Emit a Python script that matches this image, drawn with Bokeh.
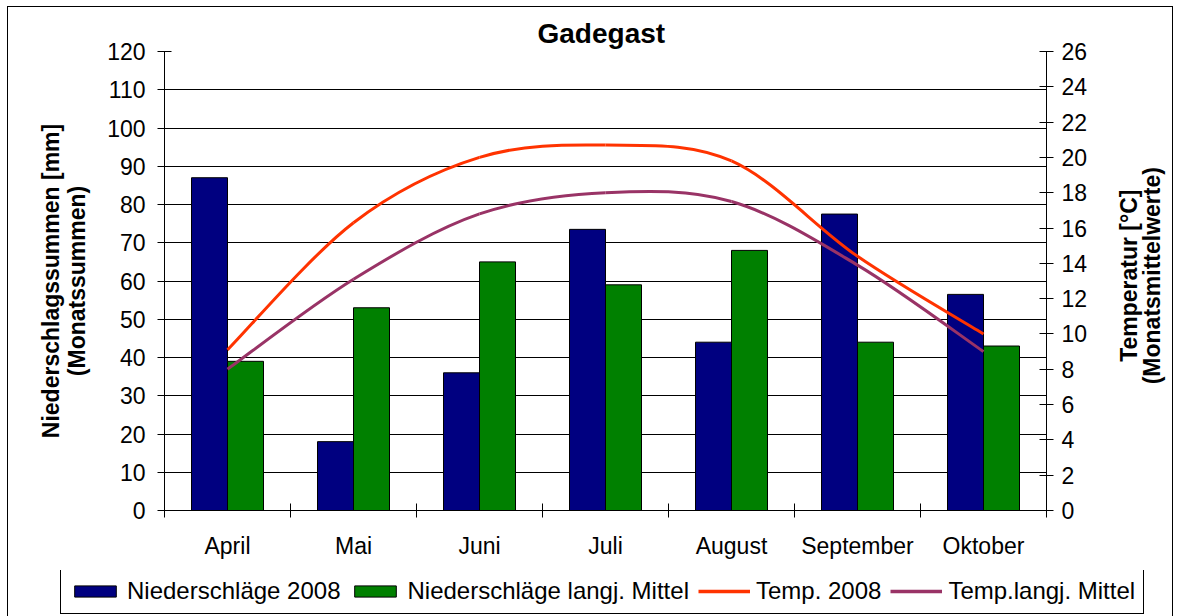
import math
from bokeh.plotting import figure
from bokeh.layouts import column, row
from bokeh.models import (Range1d, LinearAxis, FixedTicker, Legend, LegendItem,
                          ColumnDataSource, Label)
from bokeh.transform import dodge
from bokeh.embed import file_html
from bokeh.resources import INLINE

# ---------------- data ----------------
months = ["April", "Mai", "Juni", "Juli", "August", "September", "Oktober"]
rain_2008 = [87, 18, 36, 73.5, 44, 77.5, 56.5]
rain_mean = [39, 53, 65, 59, 68, 44, 43]
temp_2008 = [9.1, 16.3, 20.0, 20.7, 19.8, 14.4, 10.0]
temp_mean = [8.0, 13.1, 16.8, 18.0, 17.5, 13.9, 9.0]
rain_ticks = list(range(0, 121, 10))
temp_ticks = list(range(0, 27, 2))
series_names = ["Niederschläge 2008", "Niederschläge langj. Mittel",
                "Temp. 2008", "Temp.langj. Mittel"]
colors = ["#000080", "#008000", "#FF3300", "#993366"]

FONT = "Liberation Sans"
BORDER = "1px solid black"
n = len(months)
centers = [i + 0.5 for i in range(n)]
bw = 1 / 3.5

# ---------------- main chart ----------------
p = figure(width=1088, height=564, x_range=Range1d(0, n), y_range=Range1d(0, 120),
           output_backend="svg", toolbar_location=None,
           min_border_left=156, min_border_right=50, min_border_top=44, min_border_bottom=61)
p.styles = {"border-top": BORDER, "border-left": BORDER}
p.outline_line_color = None
p.background_fill_color = "white"
p.border_fill_color = "white"

p.title.text = "Gadegast"
p.title.align = "left"
p.title.offset = 373
p.title.text_font = FONT
p.title.text_font_size = "28px"
p.title.text_font_style = "bold"
p.title.text_color = "black"
p.title.standoff = 6

p.extra_y_ranges = {"temp": Range1d(0, 26)}

src = ColumnDataSource(dict(x=centers, r08=rain_2008, rm=rain_mean))
p.vbar(x=dodge("x", -bw / 2), top="r08", width=bw, source=src,
       fill_color=colors[0], line_color="black", line_width=1)
p.vbar(x=dodge("x", bw / 2), top="rm", width=bw, source=src,
       fill_color=colors[1], line_color="black", line_width=1)


def smooth(xs, ys):
    k = len(xs)
    out = dict(x0=[], y0=[], x1=[], y1=[], cx0=[], cy0=[], cx1=[], cy1=[])
    for i in range(k - 1):
        pm = i - 1 if i > 0 else i
        pp = i + 2 if i + 2 < k else i + 1
        out["x0"].append(xs[i]); out["y0"].append(ys[i])
        out["x1"].append(xs[i + 1]); out["y1"].append(ys[i + 1])
        out["cx0"].append(xs[i] + (xs[i + 1] - xs[pm]) / 6)
        out["cy0"].append(ys[i] + (ys[i + 1] - ys[pm]) / 6)
        out["cx1"].append(xs[i + 1] - (xs[pp] - xs[i]) / 6)
        out["cy1"].append(ys[i + 1] - (ys[pp] - ys[i]) / 6)
    return ColumnDataSource(out)


for ys, col in ((temp_2008, colors[2]), (temp_mean, colors[3])):
    p.bezier(x0="x0", y0="y0", x1="x1", y1="y1", cx0="cx0", cy0="cy0", cx1="cx1", cy1="cy1",
             source=smooth(centers, ys), line_color=col, line_width=3,
             y_range_name="temp")

# x axis
xa = p.xaxis[0]
xa.ticker = FixedTicker(ticks=centers, minor_ticks=list(range(n + 1)))
xa.major_label_overrides = {c: m for c, m in zip(centers, months)}
xa.major_tick_line_color = None
xa.major_tick_in = 0
xa.major_tick_out = 0
xa.minor_tick_line_color = "black"
xa.minor_tick_in = 7
xa.minor_tick_out = 7
xa.major_label_standoff = 15
xa.major_label_text_font = FONT
xa.major_label_text_font_size = "23px"
xa.major_label_text_color = "black"
xa.axis_line_color = "black"

# left axis
ya = p.yaxis[0]
ya.ticker = FixedTicker(ticks=rain_ticks)
ya.major_tick_in = 7
ya.major_tick_out = 7
ya.minor_tick_line_color = None
ya.major_label_standoff = 12
ya.major_label_text_font = FONT
ya.major_label_text_font_size = "23px"
ya.major_label_text_color = "black"
ya.axis_label = "Niederschlagssummen [mm]\n(Monatssummen)"
ya.axis_label_text_font = FONT
ya.axis_label_text_font_size = "23px"
ya.axis_label_text_font_style = "bold"
ya.axis_label_text_color = "black"
ya.axis_label_text_line_height = 1.0
ya.axis_label_standoff = 14

# right axis
ra = LinearAxis(y_range_name="temp", ticker=FixedTicker(ticks=temp_ticks))
ra.major_tick_in = 7
ra.major_tick_out = 7
ra.minor_tick_line_color = None
ra.major_label_standoff = 8
ra.major_label_text_font = FONT
ra.major_label_text_font_size = "23px"
ra.major_label_text_color = "black"
p.add_layout(ra, "right")

p.xgrid.visible = False
p.ygrid.ticker = FixedTicker(ticks=rain_ticks)
p.ygrid.grid_line_color = "black"
p.ygrid.grid_line_width = 1

# ---------------- right axis title panel ----------------
pr = figure(width=78, height=564, x_range=Range1d(0, 77), y_range=Range1d(0, 563),
            output_backend="svg", toolbar_location=None,
            x_axis_location=None, y_axis_location=None,
            min_border_left=0, min_border_right=0, min_border_top=0, min_border_bottom=0)
pr.styles = {"border-top": BORDER, "border-right": BORDER}
pr.outline_line_color = None
pr.grid.visible = False
for txt, xx in (("Temperatur [°C]", 33), ("(Monatsmittelwerte)", 56)):
    pr.add_layout(Label(x=xx, y=288, text=txt, angle=math.pi / 2,
                        text_align="center", text_baseline="middle",
                        text_font=FONT, text_font_size="23px", text_font_style="bold",
                        text_color="black"))

# ---------------- legend panel ----------------
pl = figure(width=1166, height=46, x_range=Range1d(0, 1164), y_range=Range1d(0, 46),
            output_backend="svg", toolbar_location=None,
            x_axis_location=None, y_axis_location=None,
            min_border_left=0, min_border_right=0, min_border_top=0, min_border_bottom=0)
pl.styles = {"border-left": BORDER, "border-right": BORDER}
pl.outline_line_color = None
pl.grid.visible = False
lr1 = pl.vbar(x=centers, top=rain_2008, width=bw, fill_color=colors[0], line_color="black",
              visible=False)
lr2 = pl.vbar(x=centers, top=rain_mean, width=bw, fill_color=colors[1], line_color="black",
              visible=False)
lr3 = pl.line(x=centers, y=temp_2008, line_color=colors[2], line_width=3.5, visible=False)
lr4 = pl.line(x=centers, y=temp_mean, line_color=colors[3], line_width=3.5, visible=False)

legend = Legend(items=[LegendItem(label=s, renderers=[r])
                       for s, r in zip(series_names, [lr1, lr2, lr3, lr4])],
                orientation="horizontal", location=(52, 2))
legend.border_line_color = "black"
legend.border_line_width = 1
legend.border_line_alpha = 1
legend.label_text_font = FONT
legend.label_text_font_size = "24px"
legend.label_text_line_height = 1.0
legend.label_text_color = "black"
legend.glyph_width = 52
legend.glyph_height = 14
legend.spacing = 9
legend.padding = 8
legend.label_standoff = 6
legend.margin = 0
legend.background_fill_alpha = 1
legend.inactive_fill_alpha = 0
pl.add_layout(legend)

layout = column(row(p, pr), pl, margin=(6, 0, 0, 7))

open("out.html", "w").write(file_html(layout, INLINE))
